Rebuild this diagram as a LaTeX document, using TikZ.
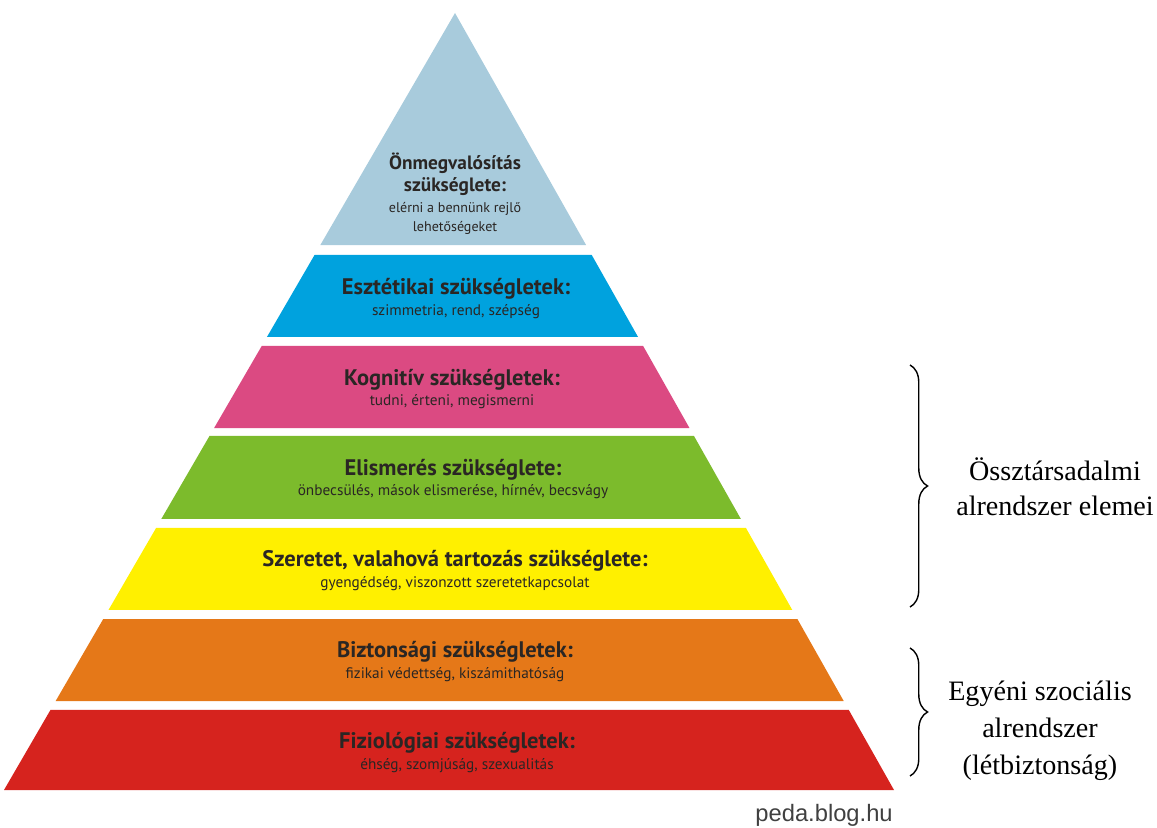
\documentclass[tikz,border=0pt]{standalone}
\usepackage{fontspec}
\setmainfont{Liberation Serif}
\newfontfamily\piramisfont{PT Sans}
\newfontfamily\forrasfont{Liberation Sans}
\usetikzlibrary{calc,decorations.pathreplacing}
\definecolor{onmegval}{RGB}{168,203,220}
\definecolor{esztetikai}{RGB}{0,162,222}
\definecolor{kognitiv}{RGB}{219,74,130}
\definecolor{elismeres}{RGB}{124,187,44}
\definecolor{szeretet}{RGB}{255,240,0}
\definecolor{biztonsag}{RGB}{229,120,24}
\definecolor{fiziologiai}{RGB}{214,35,30}
\definecolor{feliratszin}{RGB}{42,38,36}
\tikzset{
  cim/.style={font=\piramisfont\bfseries\fontsize{12.8}{14}\selectfont, text=feliratszin, inner sep=0pt},
  alcim/.style={font=\piramisfont\fontsize{8.7}{10}\selectfont, text=feliratszin, inner sep=0pt},
  kapcsos/.style={draw, thick, decorate, decoration={brace, amplitude=10}},
  magyarazat/.style={font=\fontsize{16}{20}\selectfont, align=center}
}
\begin{document}
\begin{tikzpicture}[x=0.02cm,y=-0.02cm]
\useasboundingbox (0,0) rectangle (1157,828);
\coordinate (csucs) at (455,13);
\coordinate (balalap) at (4,790);
\coordinate (jobbalap) at (894,790);
% a piramis szintjei
\foreach \felso/\also/\szin in {13/245/onmegval,255/337/esztetikai,346/428/kognitiv,
    436/519/elismeres,528/610/szeretet,619/701/biztonsag,710/790/fiziologiai}{
  \pgfmathsetmacro{\ta}{(\felso-13)/777}
  \pgfmathsetmacro{\tb}{(\also-13)/777}
  \fill[\szin] ($(csucs)!\ta!(balalap)$) -- ($(csucs)!\ta!(jobbalap)$)
    -- ($(csucs)!\tb!(jobbalap)$) -- ($(csucs)!\tb!(balalap)$) -- cycle;
}
% feliratok
\node[cim, font=\piramisfont\bfseries\fontsize{11}{12}\selectfont] (onm1) at (455,163) {Önmegvalósítás};
\node[cim, font=\piramisfont\bfseries\fontsize{11}{12}\selectfont] (onm2) at (455,187) {szükséglete:};
\node[alcim, font=\piramisfont\fontsize{8}{9}\selectfont] (onm3) at (455,209) {elérni a bennünk rejlő};
\node[alcim, font=\piramisfont\fontsize{8}{9}\selectfont] (onm4) at (455,228) {lehetőségeket};
\node[cim] (eszt) at (456,289) {Esztétikai szükségletek:};
\node[alcim] (esztal) at (456,312) {szimmetria, rend, szépség};
\node[cim] (kogn) at (452,380) {Kognitív szükségletek:};
\node[alcim] (kognal) at (452,402) {tudni, érteni, megismerni};
\node[cim] (elism) at (453,470) {Elismerés szükséglete:};
\node[alcim] (elismal) at (453,492) {önbecsülés, mások elismerése, hírnév, becsvágy};
\node[cim] (szer) at (455,561) {Szeretet, valahová tartozás szükséglete:};
\node[alcim] (szeral) at (455,584) {gyengédség, viszonzott szeretetkapcsolat};
\node[cim] (bizt) at (455,652) {Biztonsági szükségletek:};
\node[alcim] (biztal) at (455,675) {fizikai védettség, kiszámithatóság};
\node[cim] (fiz) at (457,743) {Fiziológiai szükségletek:};
\node[alcim] (fizal) at (457,766) {éhség, szomjúság, szexualitás};
\node[font=\forrasfont\fontsize{13.5}{15}\selectfont, text=black!75, anchor=east, inner sep=0pt] (forras) at (893,815) {peda.blog.hu};
% kapcsos zarojelek
\coordinate (k1f) at (910,365);
\coordinate (k1a) at (910,607);
\coordinate (k2f) at (910,648);
\coordinate (k2a) at (910,776);
\draw[kapcsos] (k1f) -- (k1a);
\draw[kapcsos] (k2f) -- (k2a);
\node[magyarazat] (tarsadalmi) at (1055,487) {Össztársadalmi\\alrendszer elemei};
\node[magyarazat, font=\fontsize{16}{21}\selectfont] (egyeni) at (1040,731) {Egyéni szociális\\alrendszer\\(létbiztonság)};
\end{tikzpicture}
\end{document}
